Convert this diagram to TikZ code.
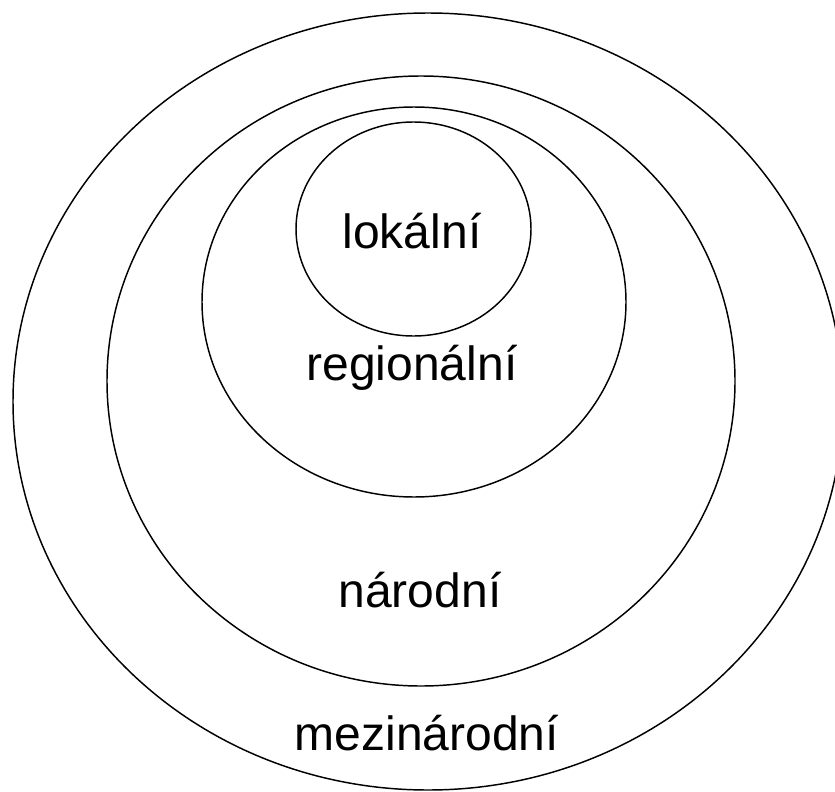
\documentclass[tikz,border=0pt]{standalone}
\usepackage{fontspec}
\setmainfont{Liberation Sans}
\begin{document}
\begin{tikzpicture}[x=0.75pt,y=-0.75pt,line width=1.1pt,
    lbl/.style={anchor=base,inner sep=0pt,font=\fontsize{36}{40}\selectfont}]
        \useasboundingbox (0,0) rectangle (835,792);

        % nested areas, outermost first
        \draw (428,401.5) ellipse [x radius=415, y radius=388.5];
        \draw (421,381) ellipse [x radius=314, y radius=305];
        \draw (414,302) ellipse [x radius=212, y radius=195];
        \draw (413.5,229) ellipse [x radius=117.5, y radius=107];

        \node[lbl] (lokalni) at (412,248) {lokální};
        \node[lbl] (regionalni) at (412,380) {regionální};
        \node[lbl] (narodni) at (420,607) {národní};
        \node[lbl] (mezinarodni) at (427,750) {mezinárodní};
    \end{tikzpicture}
\end{document}
